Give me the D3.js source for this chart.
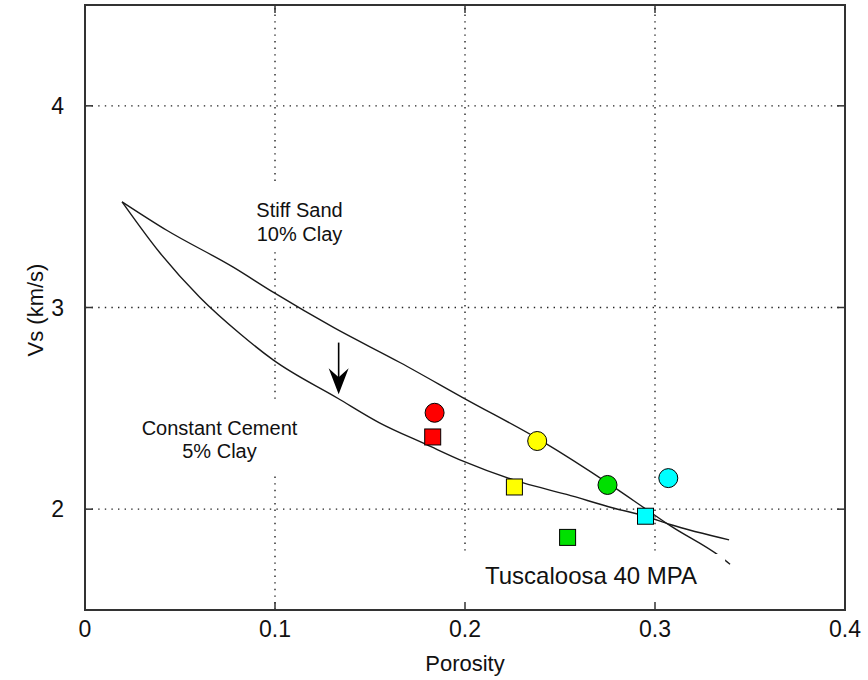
<!DOCTYPE html>
<html><head><meta charset="utf-8">
<script src="https://cdn.jsdelivr.net/npm/d3@7"></script>
<style>
body{margin:0;background:#fff}
svg{display:block}
text{font-family:"Liberation Sans",Arial,sans-serif;fill:#111}
</style>
</head><body>
<svg id="chart" width="868" height="680"></svg>
<script>
// ---- data ----
const stiffSandPorosity = [0.0195, 0.043, 0.078, 0.099, 0.131, 0.166, 0.200, 0.240, 0.277, 0.2956, 0.308, 0.334, 0.3395];
const stiffSandVs       = [3.524, 3.383, 3.200, 3.076, 2.900, 2.726, 2.547, 2.340, 2.118, 1.998, 1.918, 1.767, 1.727];
const cementPorosity = [0.0195, 0.0395, 0.0605, 0.0816, 0.099, 0.133, 0.155, 0.1798, 0.199, 0.2307, 0.2535, 0.278, 0.295, 0.308, 0.339];
const cementVs       = [3.524, 3.270, 3.050, 2.870, 2.740, 2.550, 2.428, 2.320, 2.238, 2.130, 2.073, 2.006, 1.965, 1.924, 1.848];
const sampleColors   = ["#ff0000", "#ffff00", "#00e000", "#00ffff"];
const circlePorosity = [0.184, 0.238, 0.275, 0.307];
const circleVs       = [2.478, 2.338, 2.120, 2.154];
const squarePorosity = [0.183, 0.226, 0.254, 0.295];
const squareVs       = [2.358, 2.110, 1.860, 1.965];
const xTicks = [0, 0.1, 0.2, 0.3, 0.4];
const yTicks = [2, 3, 4];
const arrowPorosity = [0.1335, 0.1335];
const arrowVs = [2.826, 2.570];

// ---- layout ----
const svg = d3.select("#chart");
const L = 85, R = 845, T = 5, B = 610;
const x = d3.scaleLinear().domain([0, 0.4]).range([L, R]);
const y = d3.scaleLinear().domain([1.5, 4.5]).range([B, T]);

// grid
const grid = svg.append("g").attr("stroke", "#222").attr("stroke-width", 1.4).attr("stroke-dasharray", "1.4,5.2");
grid.selectAll("line.vx").data(xTicks.slice(1)).join("line")
  .attr("x1", d => x(d)).attr("x2", d => x(d)).attr("y1", B).attr("y2", T);
grid.selectAll("line.hy").data(yTicks).join("line")
  .attr("x1", L).attr("x2", R).attr("y1", d => y(d)).attr("y2", d => y(d));

// curves
const line = d3.line().x(d => x(d[0])).y(d => y(d[1])).curve(d3.curveMonotoneX);
svg.append("path").datum(stiffSandPorosity.map((p, i) => [p, stiffSandVs[i]]))
  .attr("d", line).attr("fill", "none").attr("stroke", "#1a1a1a").attr("stroke-width", 1.4);
svg.append("path").datum(cementPorosity.map((p, i) => [p, cementVs[i]]))
  .attr("d", line).attr("fill", "none").attr("stroke", "#1a1a1a").attr("stroke-width", 1.4);

// text labels with white boxes
function label(lines, cx, baselines, size, anchor, pad) {
  const g = svg.append("g");
  const rect = g.append("rect").attr("fill", "#fff");
  g.selectAll("text").data(lines).join("text")
    .attr("x", cx).attr("y", (d, i) => baselines[i])
    .attr("text-anchor", anchor).attr("font-size", size).text(d => d);
  const bb = g.node().getBBox();
  rect.attr("x", bb.x - pad[0]).attr("y", bb.y - pad[1]).attr("width", bb.width + pad[0] + pad[2]).attr("height", bb.height + pad[1] + pad[3]);
}
label(["Stiff Sand", "10% Clay"], 299.5, [217, 241], 20, "middle", [12, 16, 12, 6]);
label(["Constant Cement", "5% Clay"], 219.5, [435, 458], 20, "middle", [12, 14, 12, 14]);
label(["Tuscaloosa 40 MPA"], 485, [584], 24, "start", [22, 8, 28, 30]);

// arrow
const ax = x(arrowPorosity[0]), ay0 = y(arrowVs[0]), ay1 = y(arrowVs[1]);
svg.append("line").attr("x1", ax).attr("x2", ax).attr("y1", ay0).attr("y2", ay1 - 6)
  .attr("stroke", "#000").attr("stroke-width", 1.6);
svg.append("path")
  .attr("d", `M${ax},${ay1} L${ax - 10},${ay1 - 26} L${ax},${ay1 - 17} L${ax + 10},${ay1 - 26} Z`)
  .attr("fill", "#000");

// markers
svg.append("g").selectAll("circle").data(circlePorosity).join("circle")
  .attr("cx", d => x(d)).attr("cy", (d, i) => y(circleVs[i])).attr("r", 9.5)
  .attr("fill", (d, i) => sampleColors[i]).attr("stroke", "#000").attr("stroke-width", 1);
svg.append("g").selectAll("rect").data(squarePorosity).join("rect")
  .attr("x", d => x(d) - 8).attr("y", (d, i) => y(squareVs[i]) - 8).attr("width", 16).attr("height", 16)
  .attr("fill", (d, i) => sampleColors[i]).attr("stroke", "#000").attr("stroke-width", 1);

// frame
svg.append("rect").attr("x", L).attr("y", T).attr("width", R - L).attr("height", B - T)
  .attr("fill", "none").attr("stroke", "#333").attr("stroke-width", 2);

// ticks (inward, all four sides)
const tk = svg.append("g").attr("stroke", "#333").attr("stroke-width", 1.5);
xTicks.forEach(v => {
  tk.append("line").attr("x1", x(v)).attr("x2", x(v)).attr("y1", B).attr("y2", B - 8);
  tk.append("line").attr("x1", x(v)).attr("x2", x(v)).attr("y1", T).attr("y2", T + 8);
});
yTicks.forEach(v => {
  tk.append("line").attr("x1", L).attr("x2", L + 8).attr("y1", y(v)).attr("y2", y(v));
  tk.append("line").attr("x1", R).attr("x2", R - 8).attr("y1", y(v)).attr("y2", y(v));
});

// tick labels
svg.append("g").selectAll("text").data(xTicks).join("text")
  .attr("x", d => x(d)).attr("y", 637).attr("text-anchor", "middle").attr("font-size", 23)
  .text(d => d === 0 ? "0" : String(d));
svg.append("g").selectAll("text").data(yTicks).join("text")
  .attr("x", 64).attr("y", d => y(d) + 8).attr("text-anchor", "end").attr("font-size", 23)
  .text(d => String(d));

// axis titles
svg.append("text").attr("x", 465).attr("y", 671).attr("text-anchor", "middle").attr("font-size", 22).text("Porosity");
svg.append("text").attr("transform", "translate(43,310) rotate(-90)").attr("text-anchor", "middle").attr("font-size", 22).text("Vs (km/s)");
</script>
</body></html>
